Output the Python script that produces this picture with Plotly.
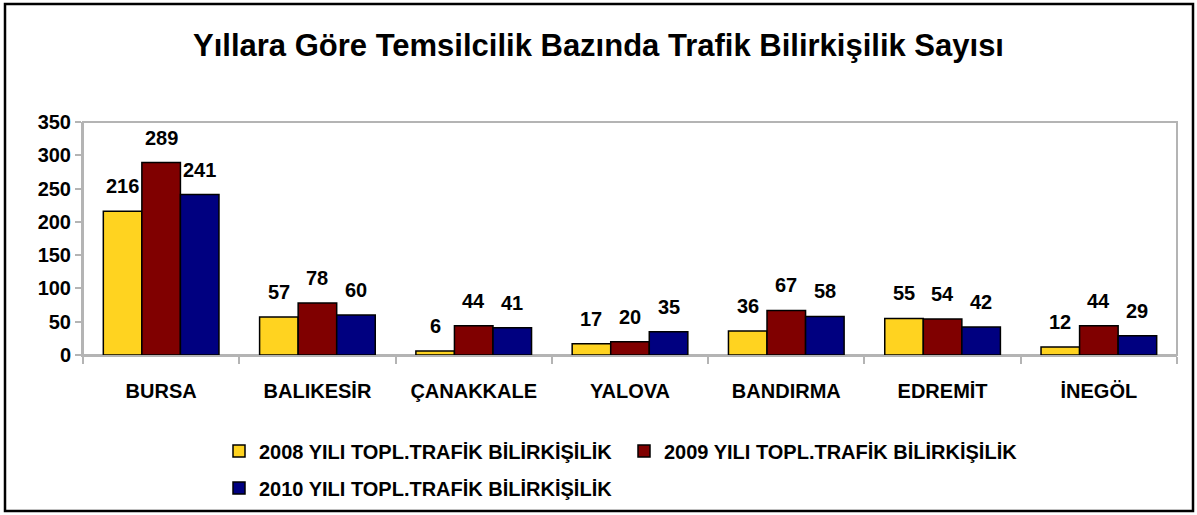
import plotly.graph_objects as go

categories = ["BURSA", "BALIKESİR", "ÇANAKKALE", "YALOVA", "BANDIRMA", "EDREMİT", "İNEGÖL"]
series_names = ["2008 YILI TOPL.TRAFİK BİLİRKİŞİLİK",
                "2009 YILI TOPL.TRAFİK BİLİRKİŞİLİK",
                "2010 YILI TOPL.TRAFİK BİLİRKİŞİLİK"]
v2008 = [216, 57, 6, 17, 36, 55, 12]
v2009 = [289, 78, 44, 20, 67, 54, 44]
v2010 = [241, 60, 41, 35, 58, 42, 29]
colors = ["#FFD320", "#800000", "#000080"]
y_ticks = [0, 50, 100, 150, 200, 250, 300, 350]

W, H = 1197, 515
ML, MR, MT, MB = 83, 20, 122, 160
PW, PH = W - ML - MR, H - MT - MB
FONT = "Liberation Sans, Arial"


def px_x(px):
    return (px - ML) / PW


def px_y(py):
    return (H - MB - py) / PH


fig = go.Figure()
all_vals = [v2008, v2009, v2010]
legend_ids = ["legend", "legend", "legend2"]
for i, (name, vals, col) in enumerate(zip(series_names, all_vals, colors)):
    fig.add_trace(go.Bar(
        x=categories, y=vals, name=name, offsetgroup=str(i), legend=legend_ids[i],
        marker=dict(color=col, line=dict(color="black", width=1.5)),
    ))

# data labels above bars
n = len(series_names)
group_w = 1 - 0.26
for i, vals in enumerate(all_vals):
    off = -group_w / 2 + group_w / n * (i + 0.5)
    for ci, v in enumerate(vals):
        fig.add_annotation(x=ci + off, y=v, xref="x", yref="y", text=str(v),
                           showarrow=False, yanchor="bottom", yshift=12,
                           font=dict(family=FONT, size=20, color="black", weight="bold"))

# outer border
fig.add_shape(type="rect", xref="paper", yref="paper",
              x0=px_x(5), x1=px_x(1193), y0=px_y(511), y1=px_y(4),
              line=dict(color="black", width=2.5), layer="above")
# plot area border
fig.add_shape(type="rect", xref="paper", yref="paper", x0=0, x1=1, y0=0, y1=1,
              line=dict(color="#B4B4B4", width=2), layer="below")

legend_font = dict(family=FONT, size=20, color="black", weight="bold")
fig.update_layout(
    width=W, height=H,
    margin=dict(l=ML, r=MR, t=MT, b=MB, autoexpand=False),
    paper_bgcolor="white", plot_bgcolor="white",
    barmode="group", bargap=0.26, bargroupgap=0,
    title=dict(text="Yıllara Göre Temsilcilik Bazında Trafik Bilirkişilik Sayısı",
               x=0.5, xref="container", xanchor="center", y=1 - 45 / H, yref="container",
               yanchor="middle",
               font=dict(family=FONT, size=31, color="black", weight="bold")),
    showlegend=True,
    legend=dict(orientation="h", x=px_x(219), xanchor="left", y=px_y(451), yanchor="middle",
                font=legend_font, entrywidth=360, entrywidthmode="pixels", itemwidth=30,
                bgcolor="rgba(0,0,0,0)", traceorder="normal"),
    legend2=dict(orientation="h", x=px_x(219), xanchor="left", y=px_y(488), yanchor="middle",
                 font=legend_font, entrywidth=360, entrywidthmode="pixels", itemwidth=30,
                 bgcolor="rgba(0,0,0,0)", traceorder="normal"),
    xaxis=dict(showline=True, linecolor="#B4B4B4", linewidth=2, mirror=False,
               ticks="outside", tickson="boundaries", ticklen=7, tickcolor="#B4B4B4", tickwidth=2,
               ticklabelstandoff=17,
               tickfont=dict(family=FONT, size=20, color="black", weight="bold"),
               showgrid=False, range=[-0.5, 6.5]),
    yaxis=dict(range=[0, 350], tickvals=y_ticks, showline=True, linecolor="#B4B4B4", linewidth=2,
               ticks="outside", ticklen=6, tickcolor="#B4B4B4", tickwidth=2,
               tickfont=dict(family=FONT, size=20, color="black", weight="bold"),
               showgrid=False, zeroline=False),
)

fig.write_html("out.html", config={"displayModeBar": False},
               post_script="document.body.style.margin='0px';")
